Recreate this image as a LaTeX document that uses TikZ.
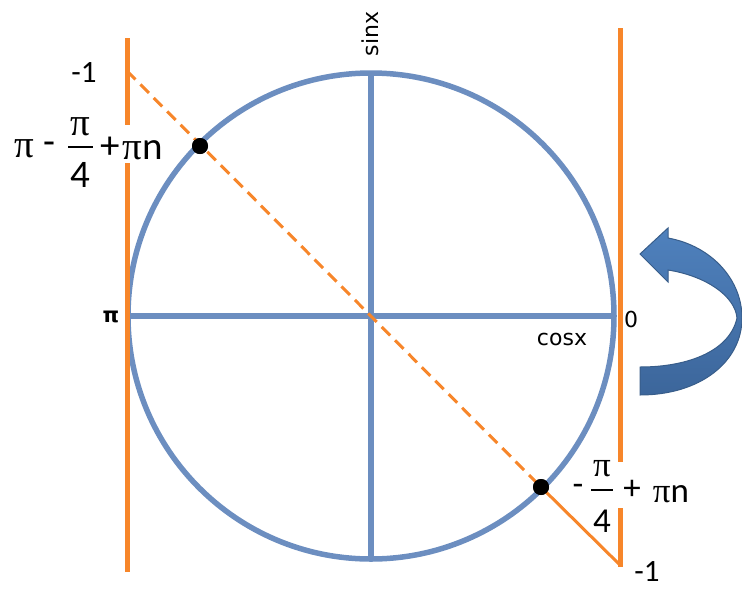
\documentclass[tikz,border=0pt]{standalone}
\usepackage{fontspec}
\setmainfont{Carlito}
\newfontfamily\dejavu{DejaVu Sans}
\newfontfamily\pifont{Liberation Serif}
\definecolor{cblue}{RGB}{108,142,192}
\definecolor{corange}{RGB}{247,134,42}
\definecolor{arrblue}{RGB}{79,129,189}
\definecolor{arrdark}{RGB}{60,102,155}
\definecolor{arredge}{RGB}{56,93,138}
\begin{document}
\begin{tikzpicture}[x=1pt,y=-1pt,
  axisline/.style={cblue, line width=5.5pt},
  ortho/.style={corange, line width=5pt},
  guide/.style={corange, line width=3pt, dash pattern=on 12pt off 7pt},
  guidesolid/.style={corange, line width=3pt},
  dotpt/.style={circle, fill=black, inner sep=0pt, minimum size=16pt},
  lab/.style={font=\dejavu\fontsize{22}{26}\selectfont, inner sep=0pt},
  num/.style={font=\fontsize{31}{37}\selectfont, inner sep=0pt},
  bigL/.style={font=\fontsize{39}{46}\selectfont, inner sep=0pt},
  bigR/.style={font=\fontsize{35}{42}\selectfont, inner sep=0pt},
  fracbar/.style={black, line width=2pt}]
\useasboundingbox (0,0) rectangle (742,590);
% circle and axes
\coordinate (O) at (371,316);
\draw[axisline] (O) circle (243pt);
\coordinate (W) at (128,316);
\coordinate (E) at (614,316);
\coordinate (N) at (371,73);
\coordinate (S) at (371,557);
\draw[axisline] (W) -- (E);
\draw[axisline] (N) -- (S);
% orange vertical lines
\coordinate (L1) at (127,38);
\coordinate (L2) at (127,125);
\coordinate (L3) at (127,163);
\coordinate (L4) at (127,572);
\coordinate (R1) at (620,28);
\coordinate (R2) at (620,462);
\coordinate (R3) at (620,508);
\coordinate (R4) at (620,567);
\draw[ortho] (L1) -- (L2);
\draw[ortho] (L3) -- (L4);
\draw[ortho] (R1) -- (R2);
\draw[ortho] (R3) -- (R4);
% diagonal
\coordinate (D1) at (127,71);
\coordinate (D2) at (620,565);
\node[dotpt] (A) at (200,146) {};
\node[dotpt] (B) at (541,487) {};
\draw[guide] (D1) -- (B.center);
\draw[guidesolid] (B.center) -- (D2);
\node[dotpt] at (A) {};
\node[dotpt] at (B) {};
% labels
\node[lab, rotate=90] (sinx) at (370,34) {sinx};
\node[lab] (cosx) at (562,339) {cosx};
\node[lab] (zero) at (631,319) {0};
\node[lab, font=\dejavu\bfseries\fontsize{21}{25}\selectfont] (piL) at (111,317) {π};
\node[num] (m1L) at (84,73) {-1};
\node[num] (m1R) at (647,572) {-1};
% left formula
\node[bigL] (lpi) at (24,149) {\pifont π};
\node[bigL] (lminus) at (49,148) {-};
\node[bigL] (lnum) at (80,127) {\pifont π};
\coordinate (lb1) at (68,147);
\coordinate (lb2) at (93,147);
\draw[fracbar] (lb1) -- (lb2);
\node[bigL] (lden) at (80,175) {4};
\node[bigL] (lplus) at (110,148) {+};
\node[bigL] (lpin) at (143,150) {{\pifont π}n};
% right formula
\node[bigR] (rminus) at (578,490) {-};
\node[bigR] (rnum) at (602,469) {\pifont π};
\coordinate (rb1) at (591,490);
\coordinate (rb2) at (613,490);
\draw[fracbar] (rb1) -- (rb2);
\node[bigR] (rden) at (602,521) {4};
\node[bigR] (rplus) at (632,490) {+};
\node[bigR] (rpin) at (671,494) {{\pifont π}n};
% curved block arrow
\shade[top color=arrblue, bottom color=arrdark, draw=arredge, line width=1pt]
  (640,395) .. controls (700,395) and (742,362) .. (742,318)
  .. controls (742,280) and (712,246) .. (668,238)
  -- (668,228) -- (640,254) -- (668,282) -- (668,270)
  .. controls (706,276) and (735,296) .. (737,318)
  .. controls (730,350) and (690,367) .. (640,367) -- cycle;
\end{tikzpicture}
\end{document}
